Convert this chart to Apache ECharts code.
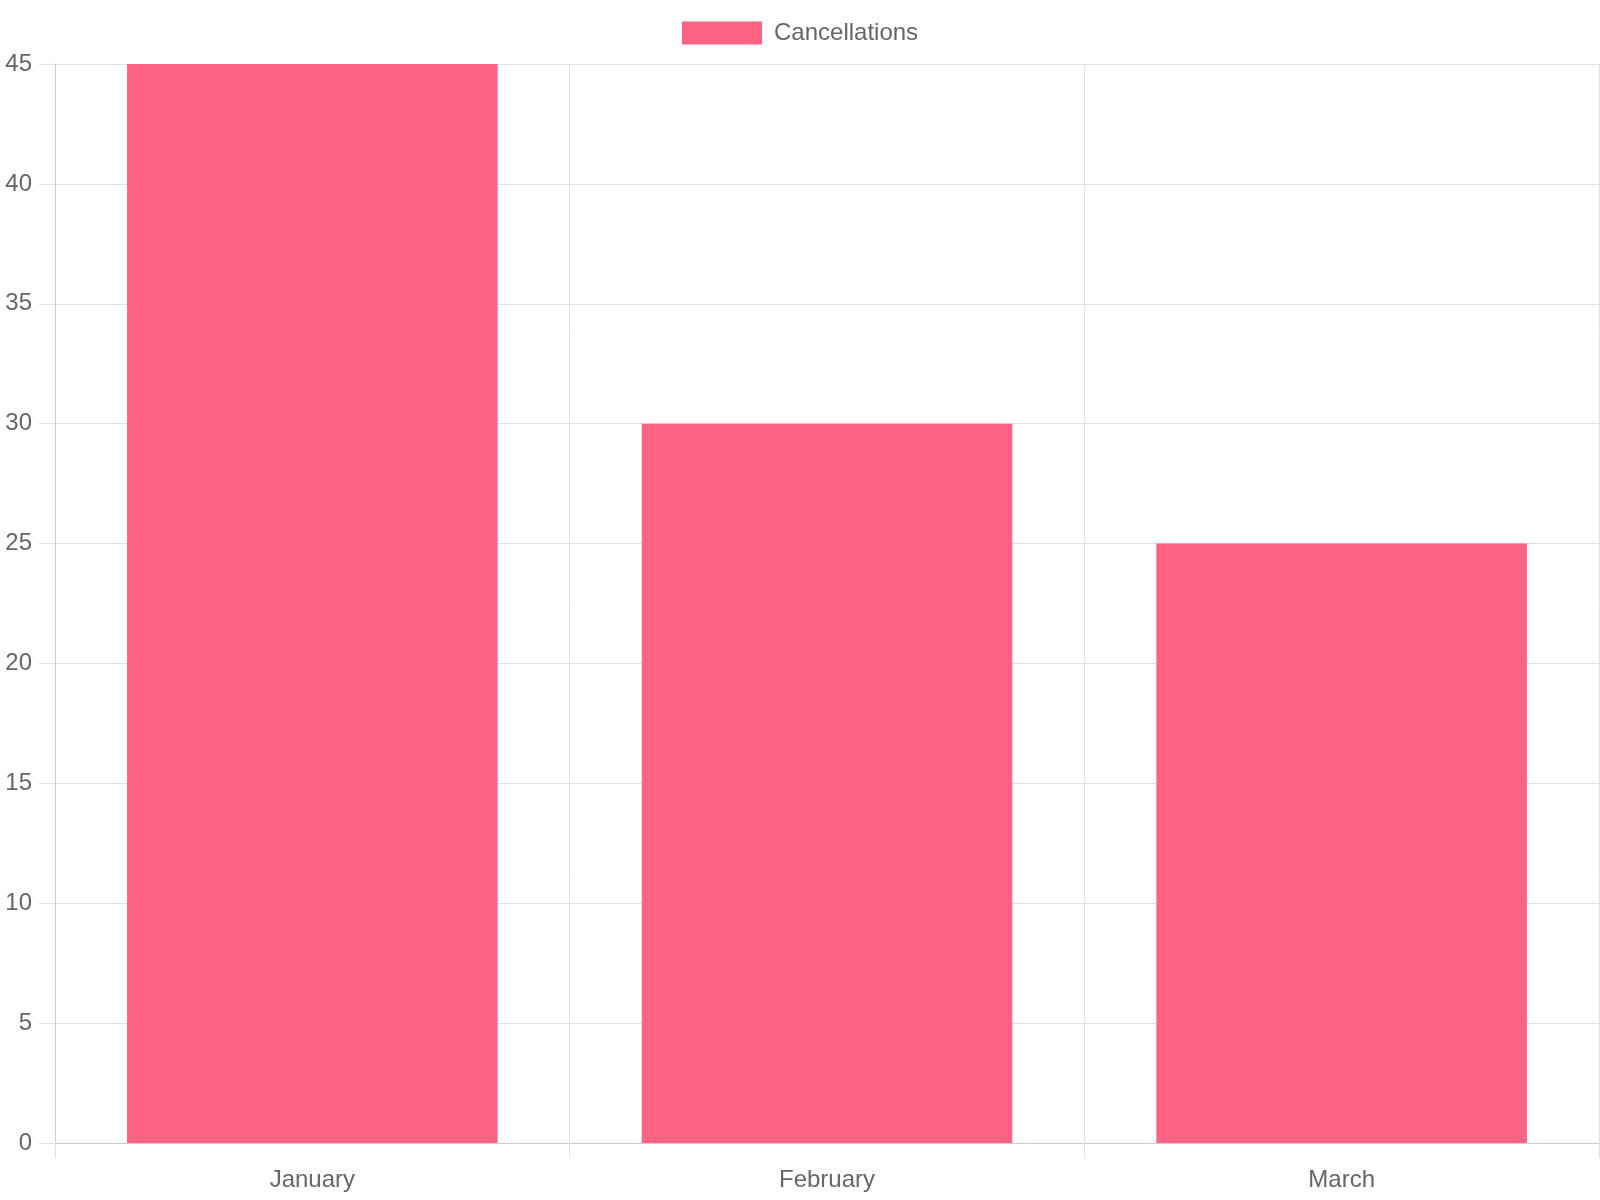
<!DOCTYPE html>
<html>
<head>
<meta charset="utf-8">
<script src="https://cdn.jsdelivr.net/npm/echarts@6/dist/echarts.min.js"></script>
<style>
  html, body { margin: 0; padding: 0; background: #fff; }
  #chart { width: 1600px; height: 1200px; }
</style>
</head>
<body>
<div id="chart"></div>
<script>
const months = ['January', 'February', 'March']
const cancellations = [45, 30, 25]
const seriesName = 'Cancellations'

const gridColor = '#e0e0e0'
const textColor = '#666'
const font = '"Liberation Sans", Arial, sans-serif'

const chart = echarts.init(document.getElementById('chart'))
chart.setOption({
  animation: false,
  textStyle: { fontFamily: font },
  legend: {
    data: [seriesName],
    left: 682,
    top: 21,
    padding: 0,
    itemWidth: 80,
    itemHeight: 23,
    icon: 'rect',
    textStyle: { fontSize: 24, color: textColor, fontFamily: font, padding: [0, 0, 0, 7] },
  },
  grid: { left: 55, right: 1, top: 64, bottom: 57, containLabel: false },
  xAxis: {
    type: 'category',
    data: months,
    boundaryGap: true,
    axisLine: { lineStyle: { color: '#cdcdcd', width: 1 } },
    axisTick: { show: true, length: 15, lineStyle: { color: gridColor } },
    axisLabel: { color: textColor, fontSize: 24, margin: 25, fontFamily: font },
    splitLine: { show: true, lineStyle: { color: gridColor, width: 1 } },
  },
  yAxis: {
    type: 'value',
    min: 0,
    max: 45,
    interval: 5,
    axisLine: { show: true, lineStyle: { color: '#cdcdcd', width: 1 } },
    axisTick: { show: true, length: 16, lineStyle: { color: gridColor } },
    axisLabel: { color: textColor, fontSize: 24, margin: 23, fontFamily: font },
    splitLine: { show: true, lineStyle: { color: gridColor, width: 1 } },
  },
  series: [
    {
      name: seriesName,
      type: 'bar',
      data: cancellations,
      barCategoryGap: '28%',
      itemStyle: { color: 'rgb(255, 99, 132)' },
    },
  ],
})
</script>
</body>
</html>
